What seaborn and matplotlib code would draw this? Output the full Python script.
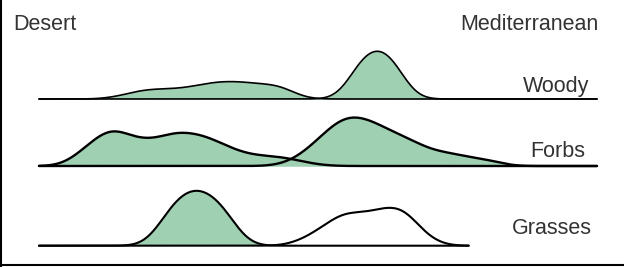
import numpy as np
import pandas as pd
import matplotlib.pyplot as plt
from matplotlib.lines import Line2D
import seaborn as sns

sns.set_style("white")
plt.rcParams["font.family"] = ["Liberation Sans", "DejaVu Sans"]

woody_desert_x = [14.5, 18.1, 21.7, 25.3, 28.9, 32.4, 36.0, 39.6, 43.2, 45.9]
woody_desert_w = [1.5, 5, 5.5, 5.5, 7.5, 9.5, 9.5, 8, 8, 1]
woody_med_x = [57.5, 60.6, 63.6]
woody_med_w = [21.4, 25.2, 21.4]

forbs_desert_x = [7.35, 10.4, 13.6, 17.2, 20.8, 24.4, 28.0, 31.5, 35.1, 38.7, 42.3, 45.9, 49.5]
forbs_desert_w = [6, 14, 21, 14.5, 14, 19, 17.5, 14, 8.5, 5.5, 5.5, 3.5, 0.8]
forbs_med_x = [45.0, 48.6, 52.2, 55.7, 59.3, 62.9, 66.5, 70.1, 73.7, 77.2, 80.8]
forbs_med_w = [2, 10, 21, 28, 25, 19, 14.5, 8.5, 7, 4.5, 3.5]

grasses_desert_x = [22.6, 25.3, 28.3, 31.4, 34.1]
grasses_desert_w = [13.3, 22.8, 28.2, 22.8, 13.3]
grasses_med_x = [47.7, 51.3, 54.8, 58.4, 62.0, 65.6, 69.2]
grasses_med_w = [4, 11, 19, 17, 21, 22, 5]

groups = ["Woody", "Forbs", "Grasses"]
regions = ["Desert", "Mediterranean"]
x_max = [100, 100, 77]  # where each ridge's baseline stops

SIGMA = 2.69  # kernel width in trait units
GREEN = "#9fd0b2"

W, H = 624, 267
fig = plt.figure(figsize=(W / 100, H / 100), dpi=100)


def kernel_bw(kde):
    # fixed kernel width regardless of the spread of the points
    return SIGMA / np.sqrt(np.cov(kde.dataset, aweights=kde.weights))


rows = [
    (woody_desert_x, woody_desert_w, woody_med_x, woody_med_w),
    (forbs_desert_x, forbs_desert_w, forbs_med_x, forbs_med_w),
    (grasses_desert_x, grasses_desert_w, grasses_med_x, grasses_med_w),
]
baselines = [99, 166, 245.7]
label_pos = [(589, 91.5), (585, 157), (592, 234)]
line_w = [1.2, 1.7, 1.5]

for i, (dx, dw, mx, mw) in enumerate(rows):
    df = pd.DataFrame({
        "value": dx + mx,
        "weight": dw + mw,
        "region": ["Desert"] * len(dx) + ["Mediterranean"] * len(mx),
    })
    base = baselines[i]
    ax = fig.add_axes([0, 1 - (base + 5) / H, 1, 65 / H])
    fills = {"Desert": GREEN, "Mediterranean": "white" if groups[i] == "Grasses" else GREEN}

    common = dict(data=df, x="value", weights="weight", hue="region", hue_order=regions,
                  common_norm=True, bw_method=kernel_bw, cut=60, clip=(0, x_max[i]),
                  gridsize=800, legend=False, ax=ax)
    sns.kdeplot(**common, fill=True, alpha=1, linewidth=0, palette=fills)
    sns.kdeplot(**common, fill=False, linewidth=line_w[i],
                palette={"Desert": "black", "Mediterranean": "black"})

    # one pixel of ridge height = this much density
    k = 1 / (np.sqrt(2 * np.pi) * SIGMA * df["weight"].sum())
    ax.set_xlim(-39 / 5.58, 585 / 5.58)
    ax.set_ylim(-5 * k, 60 * k)
    ax.axis("off")

    lx, ly = label_pos[i]
    fig.text(lx / W, 1 - ly / H, groups[i], ha="right", va="baseline",
             fontsize=15.5, color="#333333")

fig.text(13 / W, 1 - 30 / H, "Desert", ha="left", va="baseline", fontsize=15.5, color="#333333")
fig.text(599 / W, 1 - 30 / H, "Mediterranean", ha="right", va="baseline", fontsize=15.5,
         color="#333333")

# frame on the left and bottom edges
fig.add_artist(Line2D([1 / W, 1 / W], [0, 1], color="black", lw=1.5, transform=fig.transFigure))
fig.add_artist(Line2D([0, 1], [1 - 265 / H, 1 - 265 / H], color="black", lw=1.5,
                      transform=fig.transFigure))

fig.savefig("out.png", dpi=100, facecolor="white")
